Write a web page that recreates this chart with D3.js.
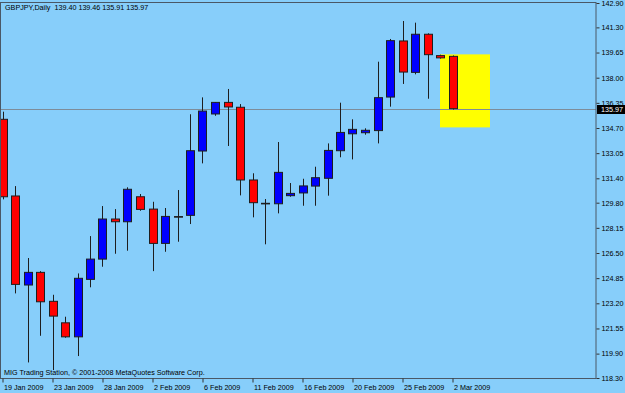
<!DOCTYPE html>
<html>
<head>
<meta charset="utf-8">
<script src="https://cdn.jsdelivr.net/npm/d3@7"></script>
<style>
  body { margin: 0; background: #87cefa; }
  text { font-family: "Liberation Sans", Arial, sans-serif; }
</style>
</head>
<body>
<svg id="chart" width="625" height="393"></svg>
<script>
// GBPJPY daily bars
var barDates = ["19 Jan","20 Jan","21 Jan","22 Jan","23 Jan","25 Jan","26 Jan","27 Jan","28 Jan","29 Jan",
  "30 Jan","1 Feb","2 Feb","3 Feb","4 Feb","5 Feb","6 Feb","8 Feb","9 Feb","10 Feb",
  "11 Feb","12 Feb","13 Feb","15 Feb","16 Feb","17 Feb","18 Feb","19 Feb","20 Feb","22 Feb",
  "23 Feb","24 Feb","25 Feb","26 Feb","27 Feb","1 Mar","2 Mar"];
var opens  = [135.27,130.24,124.40,125.23,123.33,121.92,121.00,124.77,126.10,128.73,
  128.55,130.19,129.38,127.13,128.89,128.97,133.19,135.62,136.38,136.06,
  131.29,129.76,129.73,130.26,130.44,130.89,131.40,133.21,134.32,134.39,
  134.53,136.73,140.41,138.35,140.85,139.45,139.40];
var highs  = [135.77,130.89,126.17,125.31,123.76,122.32,125.16,127.61,129.58,129.38,
  130.81,130.37,129.86,129.45,130.63,135.60,136.71,136.40,137.26,136.27,
  131.73,130.04,133.78,131.09,131.37,132.16,133.69,136.36,135.27,134.68,
  139.05,140.54,141.72,141.61,140.91,139.51,139.46];
var lows   = [130.02,123.85,119.32,121.07,118.82,120.94,119.74,124.25,125.60,126.45,
  126.65,129.27,125.31,126.58,127.24,128.40,132.38,135.50,133.52,130.28,
  128.84,127.07,129.10,130.19,129.60,129.60,130.26,132.78,132.64,134.26,
  133.69,136.10,137.59,138.22,136.62,139.25,135.91];
var closes = [130.19,124.44,125.23,123.30,122.36,121.00,124.84,126.10,128.73,128.55,
  130.68,129.36,127.13,128.90,128.89,133.21,135.81,136.38,136.08,131.29,
  129.80,129.76,131.79,130.41,130.90,131.44,133.23,134.41,134.61,134.55,
  136.69,140.43,138.37,140.85,139.51,139.30,135.97];

var priceTicks = [142.90,141.30,139.65,138.00,136.35,134.70,133.05,131.40,129.80,128.15,
  126.50,124.85,123.20,121.55,119.90,118.30];
var dateTicks = ["19 Jan","23 Jan","28 Jan","2 Feb","6 Feb","11 Feb","16 Feb","20 Feb","25 Feb","2 Mar"];
var dateTickLabels = ["19 Jan 2009","23 Jan 2009","28 Jan 2009","2 Feb 2009","6 Feb 2009",
  "11 Feb 2009","16 Feb 2009","20 Feb 2009","25 Feb 2009","2 Mar 2009"];

// yellow rectangle object (bar index / price)
var boxFrom = 35, boxTo = 39, boxHigh = 139.53, boxLow = 134.74;
var lastPrice = 135.97;

window.onload = function() {
  makeChart();
};

function makeChart() {
  var width = 625, height = 393;
  var right = 596, top = 2, bottom = 378;
  var fs = 7.2;

  var svg = d3.select("#chart");

  var x = d3.scaleLinear().domain([-0.2, 47.48]).range([0, right]);
  var y = d3.scaleLinear().domain([118.30, 142.90]).range([bottom, 3]);

  var bars = barDates.map(function(d, i) {
    return { i: i, date: d, o: opens[i], h: highs[i], l: lows[i], c: closes[i] };
  });

  svg.append("rect").attr("width", width).attr("height", height).attr("fill", "#87cefa");

  svg.append("clipPath").attr("id", "plotclip")
    .append("rect").attr("x", 1).attr("y", top).attr("width", right - 1).attr("height", bottom - top);

  var plot = svg.append("g").attr("clip-path", "url(#plotclip)");

  // yellow box
  plot.append("rect")
    .attr("x", x(boxFrom))
    .attr("y", y(boxHigh))
    .attr("width", x(boxTo) - x(boxFrom))
    .attr("height", y(boxLow) - y(boxHigh))
    .attr("fill", "#ffff00");

  // bid line
  plot.append("line")
    .attr("x1", 0).attr("x2", right)
    .attr("y1", Math.round(y(lastPrice)) + 0.5).attr("y2", Math.round(y(lastPrice)) + 0.5)
    .attr("stroke", "#7d8c99").attr("stroke-width", 1);

  var candle = plot.selectAll("g.candle")
    .data(bars)
    .enter().append("g")
    .attr("class", "candle");

  candle.append("line")
    .attr("x1", function(d) { return Math.round(x(d.i)) + 0.5; })
    .attr("x2", function(d) { return Math.round(x(d.i)) + 0.5; })
    .attr("y1", function(d) { return y(d.h); })
    .attr("y2", function(d) { return y(d.l); })
    .attr("stroke", "#1e1e1e")
    .attr("stroke-width", 1);

  candle.append("rect")
    .attr("x", function(d) { return Math.round(x(d.i)) - 3.5; })
    .attr("width", 8)
    .attr("y", function(d) { return y(Math.max(d.o, d.c)); })
    .attr("height", function(d) { return Math.max(0.6, Math.abs(y(d.o) - y(d.c))); })
    .attr("fill", function(d) { return d.c > d.o ? "#0000ff" : (d.c < d.o ? "#ff0000" : "#1e1e1e"); })
    .attr("stroke", "#1e1e1e")
    .attr("stroke-width", 1);

  // frame
  svg.append("rect")
    .attr("x", 0.5).attr("y", top + 0.5)
    .attr("width", right - 0.5).attr("height", bottom - top)
    .attr("fill", "none")
    .attr("stroke", "#4a5866");

  // price axis
  var yAxis = svg.append("g")
    .attr("transform", "translate(" + (right + 0.5) + ",0)")
    .call(d3.axisRight(y).tickValues(priceTicks).tickSize(3).tickPadding(2)
      .tickFormat(d3.format(".2f")));
  yAxis.select(".domain").remove();
  yAxis.selectAll("line").attr("stroke", "#333");
  yAxis.selectAll("text").attr("font-size", fs).attr("fill", "#000")
    .attr("font-family", "'Liberation Sans', Arial, sans-serif");

  // last price label
  svg.append("rect")
    .attr("x", 597).attr("y", Math.round(y(lastPrice)) - 4)
    .attr("width", 28).attr("height", 9)
    .attr("fill", "#000");
  svg.append("text")
    .attr("x", 601).attr("y", y(lastPrice) + 3)
    .attr("font-size", fs).attr("fill", "#fff")
    .text(d3.format(".2f")(lastPrice));

  // date axis
  var xAxis = svg.append("g")
    .attr("transform", "translate(0," + (bottom + 0.5) + ")")
    .call(d3.axisBottom(x)
      .tickValues(dateTicks.map(function(d) { return barDates.indexOf(d); }))
      .tickSize(4).tickPadding(2)
      .tickFormat(function(d, i) { return dateTickLabels[i]; }));
  xAxis.select(".domain").remove();
  xAxis.selectAll("line").attr("stroke", "#333");
  xAxis.selectAll("text").attr("font-size", fs).attr("fill", "#000")
    .attr("text-anchor", "start").attr("x", 1)
    .attr("font-family", "'Liberation Sans', Arial, sans-serif");

  // header and copyright
  svg.append("text")
    .attr("x", 5).attr("y", 10)
    .attr("font-size", fs).attr("fill", "#000")
    .attr("xml:space", "preserve")
    .text("GBPJPY,Daily  139.40 139.46 135.91 135.97");

  svg.append("text")
    .attr("x", 4).attr("y", 375)
    .attr("font-size", fs).attr("fill", "#000")
    .text("MIG Trading Station, \u00a9 2001-2008 MetaQuotes Software Corp.");
}
</script>
</body>
</html>
